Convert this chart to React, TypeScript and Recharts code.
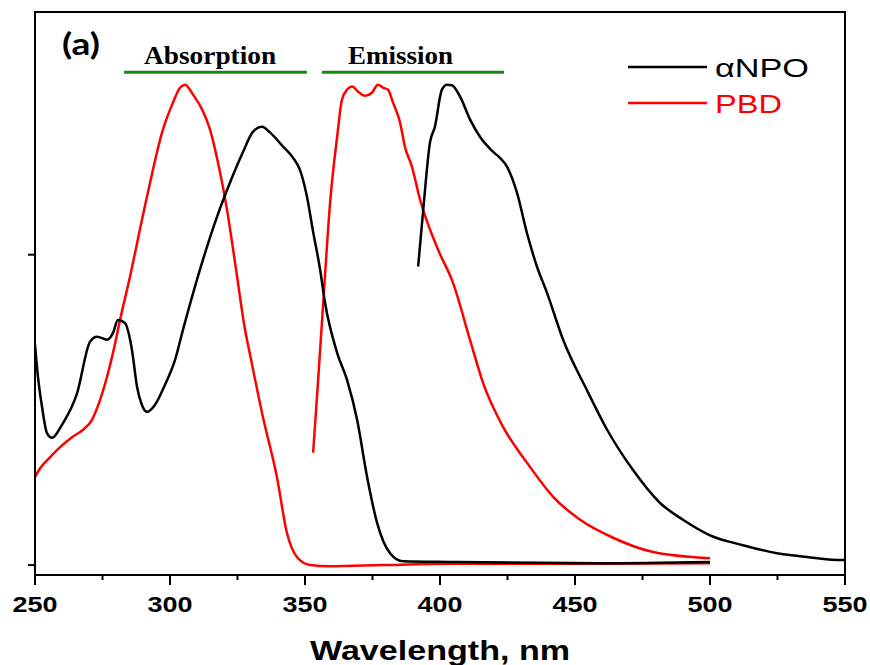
import React from 'react';
import { LineChart, Line, XAxis, YAxis, ReferenceArea, ReferenceLine, Legend } from 'recharts';

// αNPO absorption (black, left)
const npoAbsWl = [250, 251.1, 252.6, 254.4, 256.3, 260, 265.6, 270.4, 273, 276.7, 278.9, 280.7, 283.3, 285.9, 287.8, 289.6, 291.5, 294.4, 298.1, 301.9, 304.8, 311.1, 317.4, 322.2, 327, 330.7, 334.1, 337, 341.9, 345.6, 348.1, 350.7, 353, 355.6, 357.4, 361.9, 365.6, 369.3, 373, 376.7, 381.5, 386.3, 403.7, 459.3, 500];
const npoAbsVal = [0.355, 0.303, 0.255, 0.213, 0.205, 0.226, 0.277, 0.36, 0.368, 0.363, 0.374, 0.395, 0.39, 0.347, 0.287, 0.258, 0.247, 0.258, 0.29, 0.331, 0.379, 0.476, 0.561, 0.616, 0.665, 0.698, 0.706, 0.697, 0.674, 0.656, 0.637, 0.594, 0.537, 0.476, 0.423, 0.342, 0.298, 0.234, 0.142, 0.068, 0.019, 0.006, 0.005, 0.003, 0.005];

// αNPO emission (black, right)
const npoEmWl = [391.9, 393.7, 396.3, 398.1, 400.7, 402.6, 404.4, 407.4, 411.1, 414.8, 419.6, 422.2, 424.8, 428.5, 432.2, 435.9, 439.6, 445.6, 454.4, 461.9, 471.5, 481.5, 490, 500, 512.2, 524.8, 535.9, 549.3, 550];
const npoEmVal = [0.481, 0.568, 0.681, 0.706, 0.766, 0.774, 0.773, 0.755, 0.718, 0.69, 0.666, 0.656, 0.642, 0.6, 0.535, 0.481, 0.439, 0.363, 0.282, 0.218, 0.153, 0.1, 0.073, 0.048, 0.032, 0.019, 0.013, 0.008, 0.008];

// PBD absorption (red, left)
const pbdAbsWl = [250, 251.9, 255.6, 259.3, 263.7, 267.8, 271.1, 274.1, 278.9, 281.5, 285.2, 289.6, 291.5, 297.4, 301.1, 303.7, 305.6, 308.5, 311.9, 314.8, 317.8, 321.1, 324.1, 327.8, 329.6, 334.4, 339.6, 343.3, 347, 351.9, 359.3, 378.9, 403.7, 459.3, 500];
const pbdAbsVal = [0.142, 0.156, 0.174, 0.19, 0.206, 0.218, 0.234, 0.266, 0.342, 0.395, 0.465, 0.556, 0.594, 0.702, 0.745, 0.769, 0.774, 0.758, 0.734, 0.702, 0.648, 0.573, 0.487, 0.379, 0.34, 0.239, 0.142, 0.052, 0.013, 0, -0.002, 0, 0.002, 0.002, 0.003];

// PBD emission (red, right)
const pbdEmWl = [353, 354.8, 356.7, 359.3, 361.9, 363.7, 365.6, 367.4, 369.6, 372.2, 374.8, 377, 378.9, 380.7, 382.6, 385.2, 387, 389.6, 392.6, 399.3, 404.8, 411.1, 415.9, 423.3, 432.2, 441.9, 451.9, 464.1, 478.9, 500];
const pbdEmVal = [0.181, 0.294, 0.419, 0.584, 0.69, 0.75, 0.766, 0.771, 0.763, 0.756, 0.761, 0.774, 0.769, 0.766, 0.745, 0.713, 0.674, 0.642, 0.589, 0.508, 0.455, 0.363, 0.294, 0.223, 0.165, 0.11, 0.073, 0.044, 0.021, 0.011];

const xTicks = [250, 275, 300, 325, 350, 375, 400, 425, 450, 475, 500, 525, 550];
const yTicks = [0, 0.5];
const yRange = [-0.016, 0.891];

// green bars marking the two regions
const bandLevel = 0.794;
const absorptionBand = [283, 350.7];
const emissionBand = [356.3, 423.7];

const legendOrder = ['αNPO', 'PBD'];

const toPoints = (wl: number[], val: number[]) => wl.map((x, i) => ({ x, y: val[i] }));

const npoAbs = toPoints(npoAbsWl, npoAbsVal);
const npoEm = toPoints(npoEmWl, npoEmVal);
const pbdAbs = toPoints(pbdAbsWl, pbdAbsVal);
const pbdEm = toPoints(pbdEmWl, pbdEmVal);

const SANS = 'Liberation Sans, Arial, sans-serif';
const SERIF = 'Liberation Serif, Times New Roman, serif';

const XTick = (props: any) => {
  const { x, y, payload } = props;
  const major = payload.value % 50 === 0;
  return (
    <g>
      <line x1={x} y1={y} x2={x} y2={y + (major ? 10 : 5)} stroke="#000" strokeWidth={2} />
      {major && (
        <text x={x} y={y + 37} textAnchor="middle" fontSize={22} fontWeight="bold" fontFamily={SANS}
          textLength={45} lengthAdjust="spacingAndGlyphs" fill="#000">
          {payload.value}
        </text>
      )}
    </g>
  );
};

const YTick = (props: any) => {
  const { x, y } = props;
  return <line x1={x - 7} y1={y} x2={x} y2={y} stroke="#000" strokeWidth={2} />;
};

const xTitle = (props: any) => {
  const vb = props.viewBox;
  return (
    <text x={vb.x + vb.width / 2} y={vb.y + 85} textAnchor="middle" fontSize={28} fontWeight="bold"
      fontFamily={SANS} textLength={260} lengthAdjust="spacingAndGlyphs" fill="#000">
      Wavelength, nm
    </text>
  );
};

const panelTag = (props: any) => {
  const vb = props.viewBox;
  return (
    <text x={vb.x + 27} y={vb.y + 43} fontSize={30} fontWeight="bold" fontFamily="Lato, sans-serif"
      textLength={38} lengthAdjust="spacingAndGlyphs" fill="#000">
      (a)
    </text>
  );
};

const bandLabel = (text: string, dx: number, len: number) => (props: any) => {
  const vb = props.viewBox;
  return (
    <text x={vb.x + dx} y={vb.y - 8} fontSize={25} fontWeight="bold" fontFamily={SERIF}
      textLength={len} lengthAdjust="spacingAndGlyphs" fill="#000">
      {text}
    </text>
  );
};

const renderLegend = (props: any) => {
  const seen = new Set<string>();
  const items = (props.payload || [])
    .filter((p: any) => {
      if (seen.has(p.value)) return false;
      seen.add(p.value);
      return true;
    })
    .sort((a: any, b: any) => legendOrder.indexOf(a.value) - legendOrder.indexOf(b.value));
  return (
    <svg width={230} height={70}>
      {items.map((item: any, i: number) => (
        <g key={item.value}>
          <line x1={8} y1={17 + i * 36} x2={87} y2={17 + i * 36} stroke={item.color} strokeWidth={2.5} />
          <text x={95} y={27 + i * 36} fontSize={25} fontFamily={SANS} fill={item.color}
            textLength={i === 0 ? 94 : 67} lengthAdjust="spacingAndGlyphs">
            {item.value}
          </text>
        </g>
      ))}
    </svg>
  );
};

export default function App() {
  return (
    <div style={{ position: 'absolute', left: 0, top: 0, background: '#fff' }}>
      <LineChart width={870} height={665} margin={{ top: 12, right: 25, left: 0, bottom: 0 }}>
        <XAxis dataKey="x" type="number" domain={[250, 550]} ticks={xTicks} height={90}
          tickSize={0} tickMargin={0} tickLine={false} tick={XTick}
          axisLine={{ stroke: '#000', strokeWidth: 2 }} label={xTitle} allowDataOverflow />
        <YAxis type="number" domain={yRange} ticks={yTicks} width={35}
          tickSize={0} tickMargin={0} tickLine={false} tick={YTick}
          axisLine={{ stroke: '#000', strokeWidth: 2 }} allowDataOverflow />
        <Legend layout="vertical" align="center" verticalAlign="middle" content={renderLegend}
          wrapperStyle={{ left: 620, top: 50, width: 230, height: 70 }} />
        <Line data={pbdAbs} dataKey="y" name="PBD" type="monotone" stroke="#ff0000" strokeWidth={2.5}
          dot={false} activeDot={false} isAnimationActive={false} />
        <Line data={pbdEm} dataKey="y" name="PBD" type="monotone" stroke="#ff0000" strokeWidth={2.5}
          dot={false} activeDot={false} isAnimationActive={false} legendType="none" />
        <Line data={npoAbs} dataKey="y" name="αNPO" type="monotone" stroke="#000000" strokeWidth={2.5}
          dot={false} activeDot={false} isAnimationActive={false} />
        <Line data={npoEm} dataKey="y" name="αNPO" type="monotone" stroke="#000000" strokeWidth={2.5}
          dot={false} activeDot={false} isAnimationActive={false} legendType="none" />
        <ReferenceLine segment={[{ x: absorptionBand[0], y: bandLevel }, { x: absorptionBand[1], y: bandLevel }]}
          stroke="#138a13" strokeWidth={3} label={bandLabel('Absorption', 20, 132)} />
        <ReferenceLine segment={[{ x: emissionBand[0], y: bandLevel }, { x: emissionBand[1], y: bandLevel }]}
          stroke="#138a13" strokeWidth={3} label={bandLabel('Emission', 26, 105)} />
        <ReferenceArea x1={250} x2={550} y1={yRange[0]} y2={yRange[1]} fill="none" stroke="#000"
          strokeWidth={2} fillOpacity={0} label={panelTag} />
      </LineChart>
    </div>
  );
}
